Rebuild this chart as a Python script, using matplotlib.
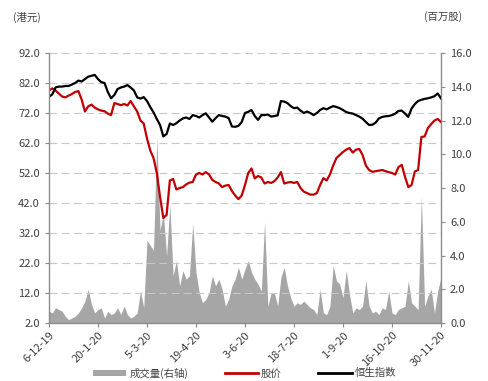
import numpy as np
import pandas as pd
import matplotlib
matplotlib.use("Agg")
import matplotlib.pyplot as plt
from matplotlib.patches import Patch
from matplotlib.lines import Line2D

plt.rcParams["font.family"] = ["Noto Sans CJK SC", "DejaVu Sans"]

# ---------------------------------------------------------------------------
# Data (every 3 calendar days from 6-12-19)
# ---------------------------------------------------------------------------
START = "2019-12-06"
END = "2020-11-30"

price = [79.5, 80.2, 79.5, 78.5, 77.5, 77.2, 77.8, 78.3, 79.0, 79.3,
         76.5, 72.5, 74.2, 74.8, 73.8, 73.2, 72.8, 72.6, 71.8, 71.3,
         75.3, 75.0, 74.6, 75.0, 74.5, 76.0, 74.2, 72.5, 69.5, 68.5,
         63.5, 59.5, 57.0, 52.0, 44.0, 37.0, 38.0, 49.5, 50.0, 46.5,
         47.0, 47.3, 48.2, 48.8, 49.0, 51.5, 52.0, 51.5, 52.3, 51.5,
         49.7, 49.0, 48.5, 47.3, 47.8, 48.0, 46.0, 44.5, 43.3, 44.5,
         48.0, 52.0, 53.5, 50.2, 51.0, 50.5, 48.5, 49.0, 48.7, 49.3,
         50.5, 52.3, 48.5, 48.8, 49.0, 48.7, 49.0, 47.0, 45.8, 45.3,
         44.8, 44.8, 45.3, 48.0, 50.3, 49.5, 51.5, 54.5, 57.0, 58.0,
         59.0, 59.8, 60.3, 58.8, 59.8, 60.0, 58.0, 54.5, 53.0, 52.4,
         52.6, 52.8, 53.0, 52.6, 52.3, 52.0, 51.5, 54.0, 54.7, 50.7,
         47.3, 48.0, 52.5, 53.0, 64.0, 64.2, 67.0, 68.3, 69.5, 70.0,
         69.0]

hsi = [77.4, 78.2, 80.5, 80.8, 80.8, 81.0, 81.0, 81.5, 82.0, 82.8,
       82.5, 83.3, 84.1, 84.4, 84.7, 83.3, 82.3, 82.0, 79.0, 76.9,
       78.0, 80.0, 80.5, 80.8, 81.3, 80.5, 79.5, 77.2, 76.8, 77.3,
       76.0, 74.0, 72.2, 70.0, 68.0, 64.2, 65.0, 68.5, 68.0, 68.6,
       69.5, 70.2, 70.5, 70.0, 71.3, 71.0, 70.5, 71.3, 71.9, 70.5,
       69.1, 70.3, 71.3, 71.0, 70.8, 70.3, 67.5, 67.4, 67.7, 69.0,
       72.0, 72.4, 73.0, 71.0, 69.7, 71.3, 71.3, 71.5, 70.8, 71.0,
       71.2, 76.0, 75.8, 75.3, 74.3, 73.6, 73.8, 72.8, 72.0, 72.5,
       72.0, 71.3, 72.0, 73.0, 73.6, 73.2, 73.8, 74.3, 74.0, 73.6,
       73.0, 72.3, 72.0, 71.8, 71.3, 70.8, 70.1, 69.0, 68.0, 68.1,
       68.8, 70.2, 70.7, 70.9, 71.0, 71.3, 71.8, 72.7, 72.8, 71.8,
       70.7, 73.5, 75.0, 76.0, 76.4, 76.7, 76.9, 77.2, 77.6, 78.5,
       76.9]

volume = [0.7, 0.6, 0.9, 0.8, 0.7, 0.4, 0.2, 0.3, 0.4, 0.6,
          0.9, 1.3, 2.0, 1.1, 0.6, 0.8, 0.9, 0.3, 0.7, 0.5,
          0.6, 0.9, 0.5, 1.0, 0.5, 0.3, 0.4, 0.6, 1.9, 0.9,
          4.9, 4.6, 4.3, 11.0, 5.5, 6.5, 4.0, 7.0, 2.8, 3.7,
          2.2, 3.1, 2.6, 2.8, 5.9, 3.0, 1.8, 1.2, 1.4, 1.8,
          2.8, 2.2, 2.6, 2.0, 1.0, 1.4, 2.2, 2.6, 3.3, 2.6,
          3.2, 3.7, 3.0, 2.6, 2.3, 1.9, 6.0, 1.0, 1.8, 1.8,
          1.0, 2.7, 3.3, 2.2, 1.5, 1.0, 1.2, 1.1, 1.3, 1.1,
          0.9, 0.8, 0.5, 2.0, 0.6, 0.5, 1.0, 3.4, 2.5, 2.3,
          1.5, 3.1, 1.7, 0.6, 0.9, 0.8, 1.0, 2.5, 1.0, 0.6,
          0.7, 0.5, 0.9, 0.8, 1.9, 0.6, 0.5, 0.8, 0.9, 1.0,
          2.5, 1.2, 1.0, 0.8, 7.5, 1.0, 1.6, 2.0, 0.6, 1.9,
          2.7]

tick_labels = ["6-12-19", "20-1-20", "5-3-20", "19-4-20", "3-6-20",
               "18-7-20", "1-9-20", "16-10-20", "30-11-20"]
left_ticks = [2.0, 12.0, 22.0, 32.0, 42.0, 52.0, 62.0, 72.0, 82.0, 92.0]
right_ticks = [0.0, 2.0, 4.0, 6.0, 8.0, 10.0, 12.0, 14.0, 16.0]

legend_labels = ["成交量(右轴)", "股价", "恒生指数"]

# ---------------------------------------------------------------------------
# Plot
# ---------------------------------------------------------------------------
RED = "#c00000"
GRAY = "#a6a6a6"
AXIS = "#8c8c8c"
TXT = "#404040"

dates = pd.date_range(START, periods=len(price), freq="3D")
tick_pos = pd.date_range(START, periods=len(tick_labels), freq="45D")

fig = plt.figure(figsize=(4.89, 3.81), dpi=100)
ax = fig.add_axes([0.1002, 0.1522, 0.8016, 0.7087])
ax2 = ax.twinx()

ax2.fill_between(dates, 0, volume, color=GRAY, linewidth=0)
ax2.set_ylim(0, 16)
ax2.set_yticks(right_ticks)
ax2.set_yticklabels([f"{v:.1f}" for v in right_ticks])

ax.plot(dates, price, color=RED, linewidth=1.6)
ax.plot(dates, hsi, color="black", linewidth=1.6)
ax.set_ylim(2, 92)
ax.set_yticks(left_ticks)
ax.set_yticklabels([f"{v:.1f}" for v in left_ticks])
ax.set_xlim(pd.Timestamp(START), pd.Timestamp(END))
ax.set_xticks(tick_pos)
ax.set_xticklabels(tick_labels, rotation=45, ha="right",
                   rotation_mode="anchor")

ax.set_zorder(ax2.get_zorder() + 1)
ax.patch.set_visible(False)

ax.grid(axis="y", color="#c8c8c8", linestyle=(0, (7, 4)), linewidth=0.8)
ax.set_axisbelow(True)

for a in (ax, ax2):
    a.spines["top"].set_visible(False)
    for s in ("left", "right", "bottom"):
        a.spines[s].set_color(AXIS)
        a.spines[s].set_linewidth(1.0)
    a.tick_params(colors=AXIS, labelcolor=TXT, labelsize=8,
                  length=3, width=0.8)
ax.tick_params(axis="x", pad=2)
ax.spines["right"].set_visible(False)
ax2.spines["left"].set_visible(False)
ax2.spines["bottom"].set_visible(False)

fig.text(27 / 489, 1 - 17 / 381, "(港元)", ha="center", va="center",
         fontsize=7.5, color=TXT)
fig.text(443 / 489, 1 - 17 / 381, "(百万股)", ha="center", va="center",
         fontsize=7.5, color=TXT)

handles = [Patch(facecolor=GRAY, edgecolor="none"),
           Line2D([], [], color=RED, linewidth=2),
           Line2D([], [], color="black", linewidth=2)]
fig.legend(handles, legend_labels, loc="center", ncol=3,
           bbox_to_anchor=(0.5, 1 - 373 / 381), frameon=False,
           fontsize=7.5, labelcolor=TXT, handlelength=3.2,
           handleheight=0.5, columnspacing=3.5, handletextpad=0.3)

fig.savefig("out.png", dpi=100)
